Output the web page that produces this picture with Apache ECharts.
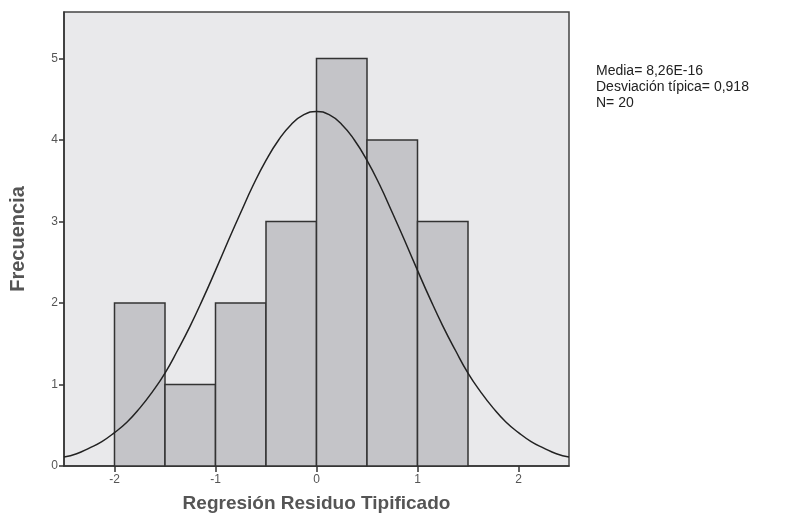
<!DOCTYPE html>
<html><head><meta charset="utf-8">
<script src="https://cdn.jsdelivr.net/npm/echarts@6/dist/echarts.min.js"></script>
<style>html,body{margin:0;padding:0;background:#fff}#c{width:804px;height:518px}</style>
</head><body><div id="c"></div>
<script>
var binStart = [-2.0, -1.5, -1.0, -0.5, 0.0, 0.5, 1.0];
var binEnd   = [-1.5, -1.0, -0.5, 0.0, 0.5, 1.0, 1.5];
var counts   = [2, 1, 2, 3, 5, 4, 3];
var curveX = [-2.5,-2.375,-2.25,-2.125,-2,-1.875,-1.75,-1.625,-1.5,-1.375,-1.25,-1.125,-1,-0.875,-0.75,-0.625,-0.5,-0.375,-0.25,-0.125,0,0.125,0.25,0.375,0.5,0.625,0.75,0.875,1,1.125,1.25,1.375,1.5,1.625,1.75,1.875,2,2.125,2.25,2.375,2.5];
var curveY = [0.11,0.15,0.22,0.30,0.41,0.54,0.71,0.91,1.14,1.42,1.72,2.05,2.40,2.76,3.11,3.45,3.75,4.00,4.19,4.31,4.35,4.31,4.19,4.00,3.75,3.45,3.11,2.76,2.40,2.05,1.72,1.42,1.14,0.91,0.71,0.54,0.41,0.30,0.22,0.15,0.11];
var xTicks = [-2, -1, 0, 1, 2];
var yTicks = [0, 1, 2, 3, 4, 5];
var statsLines = ['Media= 8,26E-16', 'Desviación típica= 0,918', 'N= 20'];

var chart = echarts.init(document.getElementById('c'));
var barData = counts.map(function(c,i){return [binStart[i], binEnd[i], c];});
var lineData = curveX.map(function(x,i){return [x, curveY[i]];});
chart.setOption({
  animation:false,
  grid:{left:63, top:12, right:235, bottom:49, show:true, backgroundColor:'#e9e9eb', borderColor:'#444', borderWidth:1.5},
  xAxis:{type:'value', min:-2.5, max:2.5,
    name:'Regresión Residuo Tipificado', nameLocation:'middle', nameGap:28,
    nameTextStyle:{fontFamily:'Liberation Sans', fontWeight:'bold', fontSize:19, color:'#555'},
    axisLine:{show:true, onZero:false, lineStyle:{color:'#333', width:1.5}},
    axisTick:{show:true, length:6, customValues:xTicks, lineStyle:{color:'#333', width:1.5}},
    axisLabel:{customValues:xTicks, fontFamily:'Liberation Sans', fontSize:12, color:'#555', margin:8},
    splitLine:{show:false}},
  yAxis:{type:'value', min:0, max:5.57,
    name:'Frecuencia', nameLocation:'middle', nameGap:36,
    nameTextStyle:{fontFamily:'Liberation Sans', fontWeight:'bold', fontSize:20, color:'#555'},
    axisLine:{show:true, onZero:false, lineStyle:{color:'#333', width:1.5}},
    axisTick:{show:true, length:5, customValues:yTicks, lineStyle:{color:'#333', width:1.5}},
    axisLabel:{customValues:yTicks, fontFamily:'Liberation Sans', fontSize:12, color:'#555', margin:6},
    splitLine:{show:false}},
  graphic:[{type:'text', left:596, top:63, style:{text:statsLines.join('\n'), fontFamily:'Liberation Sans', fontSize:14, lineHeight:16, fill:'#222'}}],
  series:[
    {type:'custom', data:barData, encode:{x:[0,1], y:2},
     renderItem:function(params, api){
       var p0 = api.coord([api.value(0), api.value(2)]);
       var p1 = api.coord([api.value(1), 0]);
       return {type:'rect', shape:{x:p0[0], y:p0[1], width:p1[0]-p0[0], height:p1[1]-p0[1]},
         style:{fill:'#c4c4c8', stroke:'#333', lineWidth:1.5}};
     }, z:2},
    {type:'line', data:lineData, smooth:true, showSymbol:false, lineStyle:{color:'#222', width:1.5}, z:3}
  ]
});
</script></body></html>
